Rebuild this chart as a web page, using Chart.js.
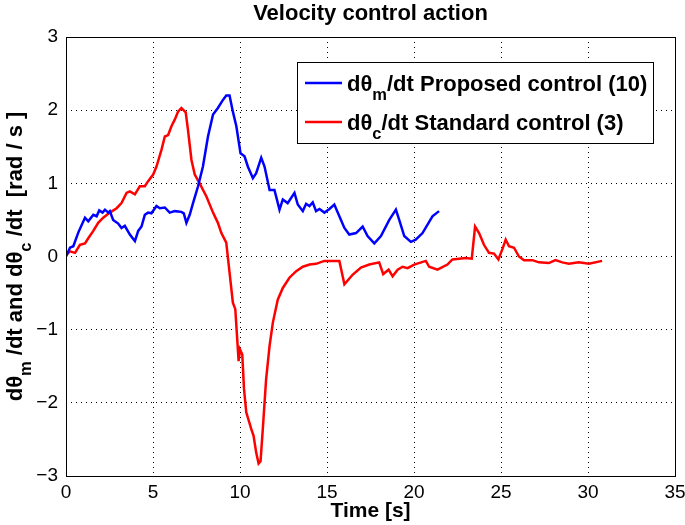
<!DOCTYPE html>
<html lang="en">
<head>
    <meta charset="UTF-8">
    <title>Velocity control action</title>
    <style>
        body { margin: 0; background: #fff; }
        #wrap { width: 685px; height: 525px; }
    </style>
</head>
<body>
    <div id="wrap">
        <canvas id="myChart" width="685" height="525"></canvas>
    </div>

    <script src="https://cdn.jsdelivr.net/npm/chart.js"></script>

    <script>
        // time axis ticks
        const xTicks = [0, 5, 10, 15, 20, 25, 30, 35];
        const yTicks = [-3, -2, -1, 0, 1, 2, 3];

        // proposed control (blue)
        const blueTime = [0, 0.23, 0.42, 0.71, 1.09, 1.28, 1.57, 1.76, 1.91, 2.1, 2.24, 2.43, 2.52, 2.71, 3.0, 3.19, 3.38, 3.67, 3.96, 4.15,
            4.34, 4.53, 4.72, 4.91, 5.2, 5.39, 5.68, 5.96, 6.25, 6.63, 6.77, 6.92, 7.11, 7.3, 7.59, 7.87, 8.16, 8.45, 8.73, 9.02,
            9.21, 9.4, 9.59, 9.79, 10.03, 10.26, 10.45, 10.74, 10.93, 11.22, 11.41, 11.7, 11.98, 12.27, 12.46, 12.74, 13.13, 13.32, 13.61, 13.8,
            13.99, 14.18, 14.37, 14.57, 14.85, 15.14, 15.42, 15.71, 16.0, 16.28, 16.67, 17.05, 17.33, 17.72, 18.1, 18.58, 18.96, 19.15, 19.44, 19.82,
            20.1, 20.49, 21.06, 21.44];
        const blueVel = [0, 0.12, 0.14, 0.33, 0.53, 0.48, 0.57, 0.55, 0.63, 0.60, 0.64, 0.60, 0.62, 0.50, 0.45, 0.39, 0.42, 0.30, 0.21, 0.35,
            0.41, 0.57, 0.60, 0.59, 0.69, 0.66, 0.67, 0.60, 0.62, 0.61, 0.59, 0.46, 0.57, 0.73, 0.96, 1.23, 1.64, 1.94, 2.03, 2.14,
            2.20, 2.20, 1.98, 1.78, 1.41, 1.37, 1.23, 1.07, 1.14, 1.35, 1.23, 0.91, 0.91, 0.64, 0.78, 0.73, 0.87, 0.71, 0.62, 0.72,
            0.69, 0.74, 0.62, 0.65, 0.60, 0.65, 0.71, 0.55, 0.39, 0.30, 0.32, 0.41, 0.28, 0.18, 0.28, 0.50, 0.64, 0.50, 0.28, 0.20,
            0.23, 0.32, 0.55, 0.62];

        // standard control (red)
        const redTime = [0, 0.23, 0.52, 0.8, 1.09, 1.28, 1.57, 1.85, 2.14, 2.52, 2.91, 3.19, 3.48, 3.67, 3.96, 4.24, 4.53, 4.72, 5.01, 5.2,
            5.49, 5.68, 5.87, 6.06, 6.25, 6.44, 6.63, 6.88, 7.01, 7.21, 7.4, 7.68, 8.07, 8.45, 8.73, 8.93, 9.21, 9.4, 9.59, 9.73,
            9.84, 9.92, 10.0, 10.13, 10.23, 10.36, 10.65, 10.78, 10.93, 11.07, 11.18, 11.31, 11.5, 11.7, 11.89, 12.17, 12.46, 12.84, 13.23, 13.61,
            14.0, 14.37, 14.85, 15.71, 16.0, 16.47, 16.95, 17.43, 18.0, 18.23, 18.54, 18.77, 19.06, 19.34, 19.63, 20.01, 20.68, 20.87, 21.35, 21.92,
            22.21, 22.59, 22.97, 23.32, 23.51, 23.74, 24.02, 24.31, 24.6, 24.85, 25.08, 25.27, 25.46, 25.75, 26.03, 26.32, 26.8, 27.18, 27.75, 28.13,
            28.52, 28.9, 29.47, 30.05, 30.81];
        const redVel = [0.02, 0.07, 0.05, 0.16, 0.18, 0.25, 0.35, 0.46, 0.53, 0.60, 0.66, 0.73, 0.87, 0.89, 0.85, 0.96, 0.96, 1.03, 1.12, 1.23,
            1.46, 1.64, 1.66, 1.78, 1.87, 1.98, 2.03, 1.97, 1.73, 1.32, 1.12, 1.0, 0.82, 0.60, 0.46, 0.32, 0.19, -0.22, -0.63, -0.72,
            -1.13, -1.43, -1.27, -1.34, -1.81, -2.13, -2.36, -2.45, -2.68, -2.83, -2.80, -2.36, -1.68, -1.22, -0.90, -0.59, -0.43, -0.29, -0.20, -0.14,
            -0.11, -0.10, -0.06, -0.06, -0.38, -0.25, -0.15, -0.11, -0.08, -0.24, -0.18, -0.27, -0.18, -0.14, -0.16, -0.11, -0.06, -0.14, -0.18, -0.11,
            -0.04, -0.03, -0.02, -0.03, 0.41, 0.32, 0.16, 0.05, 0.04, -0.04, 0.10, 0.23, 0.14, 0.12, 0.0, -0.05, -0.05, -0.08, -0.09, -0.05,
            -0.08, -0.10, -0.08, -0.10, -0.06];

        const FONT = "'Liberation Sans', Arial, Helvetica, sans-serif";

        function toPoints(ts, vs) {
            return ts.map((t, i) => ({ x: t, y: vs[i] }));
        }

        // text with subscripts: parts = [[text, isSub], ...]
        function richWidth(ctx, parts, size) {
            let w = 0;
            parts.forEach(p => {
                ctx.font = 'bold ' + (p[1] ? size * 0.75 : size) + 'px ' + FONT;
                w += ctx.measureText(p[0]).width;
            });
            return w;
        }
        function drawRich(ctx, parts, x, y, size) {
            ctx.textBaseline = 'alphabetic';
            ctx.textAlign = 'left';
            parts.forEach(p => {
                ctx.font = 'bold ' + (p[1] ? size * 0.75 : size) + 'px ' + FONT;
                ctx.fillText(p[0], x, p[1] ? y + size * 0.42 : y);
                x += ctx.measureText(p[0]).width;
            });
        }

        const legendItems = [
            { color: '#0000ff', parts: [['d\u03b8', false], ['m', true], ['/dt Proposed control (10)', false]] },
            { color: '#ff0000', parts: [['d\u03b8', false], ['c', true], ['/dt Standard control (3)', false]] }
        ];
        const yTitleParts = [['d\u03b8', false], ['m', true], [' /dt and d\u03b8', false], ['c', true], [' /dt  [rad / s ]', false]];

        const decorations = {
            id: 'decorations',
            afterDraw(chart) {
                const ctx = chart.ctx;
                const a = chart.chartArea;
                ctx.save();
                // axes box
                ctx.strokeStyle = '#000';
                ctx.lineWidth = 1;
                ctx.strokeRect(Math.round(a.left) + 0.5, Math.round(a.top) + 0.5,
                    Math.round(a.right - a.left), Math.round(a.bottom - a.top));

                // title
                ctx.fillStyle = '#000';
                ctx.font = 'bold 22px ' + FONT;
                ctx.textAlign = 'center';
                ctx.textBaseline = 'middle';
                ctx.fillText('Velocity control action', (a.left + a.right) / 2, 14);

                // y axis title, rotated
                ctx.save();
                ctx.translate(22, (a.top + a.bottom) / 2);
                ctx.rotate(-Math.PI / 2);
                const yw = richWidth(ctx, yTitleParts, 22);
                drawRich(ctx, yTitleParts, -yw / 2, 0, 22);
                ctx.restore();

                // legend
                const lx = 297, ly = 62, lw = 356, lh = 81;
                ctx.fillStyle = '#fff';
                ctx.fillRect(lx, ly, lw, lh);
                ctx.strokeStyle = '#000';
                ctx.lineWidth = 1;
                ctx.strokeRect(lx + 0.5, ly + 0.5, lw, lh);
                legendItems.forEach((it, i) => {
                    const cy = 83 + i * 39;
                    ctx.strokeStyle = it.color;
                    ctx.lineWidth = 2.5;
                    ctx.beginPath();
                    ctx.moveTo(305, cy);
                    ctx.lineTo(342, cy);
                    ctx.stroke();
                    ctx.fillStyle = '#000';
                    drawRich(ctx, it.parts, 347, cy + 8, 22);
                });
                ctx.restore();
            }
        };

        const ctx = document.getElementById('myChart');

        let velocityChart = new Chart(ctx, {
            type: 'line',
            data: {
                datasets: [{
                    label: 'd\u03b8m/dt Proposed control (10)',
                    data: toPoints(blueTime, blueVel),
                    borderColor: '#0000ff',
                    borderWidth: 2.5,
                    pointRadius: 0,
                    tension: 0,
                    fill: false
                }, {
                    label: 'd\u03b8c/dt Standard control (3)',
                    data: toPoints(redTime, redVel),
                    borderColor: '#ff0000',
                    borderWidth: 2.5,
                    pointRadius: 0,
                    tension: 0,
                    fill: false
                }]
            },
            options: {
                responsive: false,
                animation: false,
                layout: { padding: { left: 0, right: 0, top: 37, bottom: 0 } },
                plugins: {
                    legend: { display: false },
                    title: { display: false },
                    tooltip: { enabled: false }
                },
                scales: {
                    x: {
                        type: 'linear',
                        min: 0,
                        max: 35,
                        afterBuildTicks: s => { s.ticks = xTicks.map(v => ({ value: v })); },
                        afterFit: s => { s.height = 49; s.paddingRight = 10; s.paddingLeft = 0; },
                        grid: { color: '#000', lineWidth: 1, drawTicks: false },
                        border: { display: false, dash: [1, 4] },
                        ticks: { color: '#000', padding: 5, font: { family: FONT, size: 19 }, maxRotation: 0 },
                        title: {
                            display: true,
                            text: 'Time [s]',
                            color: '#000',
                            font: { family: FONT, size: 21, weight: 'bold' },
                            padding: { top: 0, bottom: 1 }
                        }
                    },
                    y: {
                        min: -3,
                        max: 3,
                        afterBuildTicks: s => { s.ticks = yTicks.map(v => ({ value: v })); },
                        afterFit: s => { s.width = 66; },
                        grid: { color: '#000', lineWidth: 1, drawTicks: false },
                        border: { display: false, dash: [1, 4] },
                        ticks: {
                            color: '#000',
                            padding: 8,
                            font: { family: FONT, size: 19 },
                            callback: v => String(v).replace('-', '\u2212')
                        }
                    }
                }
            },
            plugins: [decorations]
        });
    </script>
</body>
</html>
